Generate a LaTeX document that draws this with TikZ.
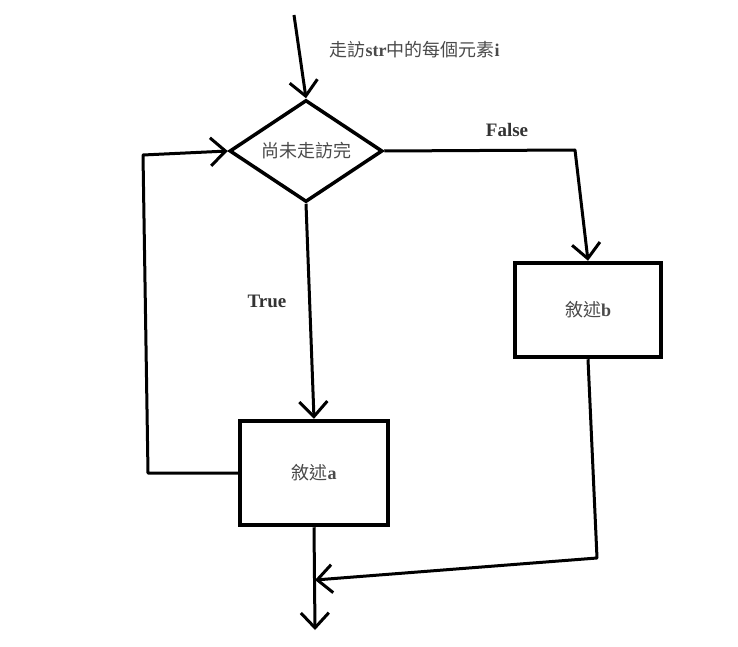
\documentclass[tikz,border=0pt]{standalone}
\usepackage{fontspec}
\setmainfont{Liberation Serif}
\newfontfamily\cjk{Noto Sans CJK TC}
\usetikzlibrary{positioning,arrows.meta,shapes.geometric}
\definecolor{inkgray}{HTML}{4a4a4a}
\tikzstyle{statement}=[draw=black,line width=4.5pt,minimum width=148pt,minimum height=104pt,inner sep=0pt,text=inkgray,font=\fontsize{18}{20}\selectfont]
\tikzstyle{decision}=[diamond,draw=black,line width=3.5pt,minimum width=153pt,minimum height=102pt,inner sep=0pt,aspect=1.5,text=inkgray,font=\fontsize{18}{20}\selectfont]
\tikzstyle{flow}=[draw=black,line width=3pt,line join=round,-{Straight Barb[length=15pt,width=28pt]}]
\tikzstyle{tag}=[text=black!80,font=\bfseries\fontsize{19}{20}\selectfont]

\begin{document}
\begin{tikzpicture}[x=1pt,y=-1pt]
  \useasboundingbox (0,0) rectangle (738,647);
  \node[decision] (check) at (306,151) {\cjk 尚未走訪完};
  \node[statement] (stmta) at (314,473) {{\cjk 敘述}\textbf{a}};
  \node[statement,minimum width=146pt,minimum height=94pt] (stmtb) at (588,310) {{\cjk 敘述}\textbf{b}};

  \coordinate (start) at (294,15);
  \coordinate (falseturn) at (575,150);
  \coordinate (loopdown) at (148,473);
  \coordinate (loopup) at (143,155);
  \coordinate (bturn) at (597,558);
  \coordinate (merge) at (315,580);
  \coordinate (exit) at (315,630);

  \node[anchor=west,text=inkgray,font=\fontsize{18}{20}\selectfont] (title) at (326,50) {{\cjk 走訪}\textbf{str}{\cjk 中的每個元素}\textbf{i}};
  \node[tag] (truetag) at (267,301) {True};
  \node[tag] (falsetag) at (507,130) {False};

  % Connect nodes with flow lines
  \draw[flow] (start) -- (check.north);
  \draw[flow] (check.south) -- (stmta.north);
  \draw[flow] (check.east) -- (falseturn) -- (stmtb.north);
  \draw[flow] (stmta.west) -- (loopdown) -- (loopup) -- (check.west);
  \draw[flow] (stmtb.south) -- (bturn) -- (merge);
  \draw[flow] (stmta.south) -- (exit);
\end{tikzpicture}
\end{document}
